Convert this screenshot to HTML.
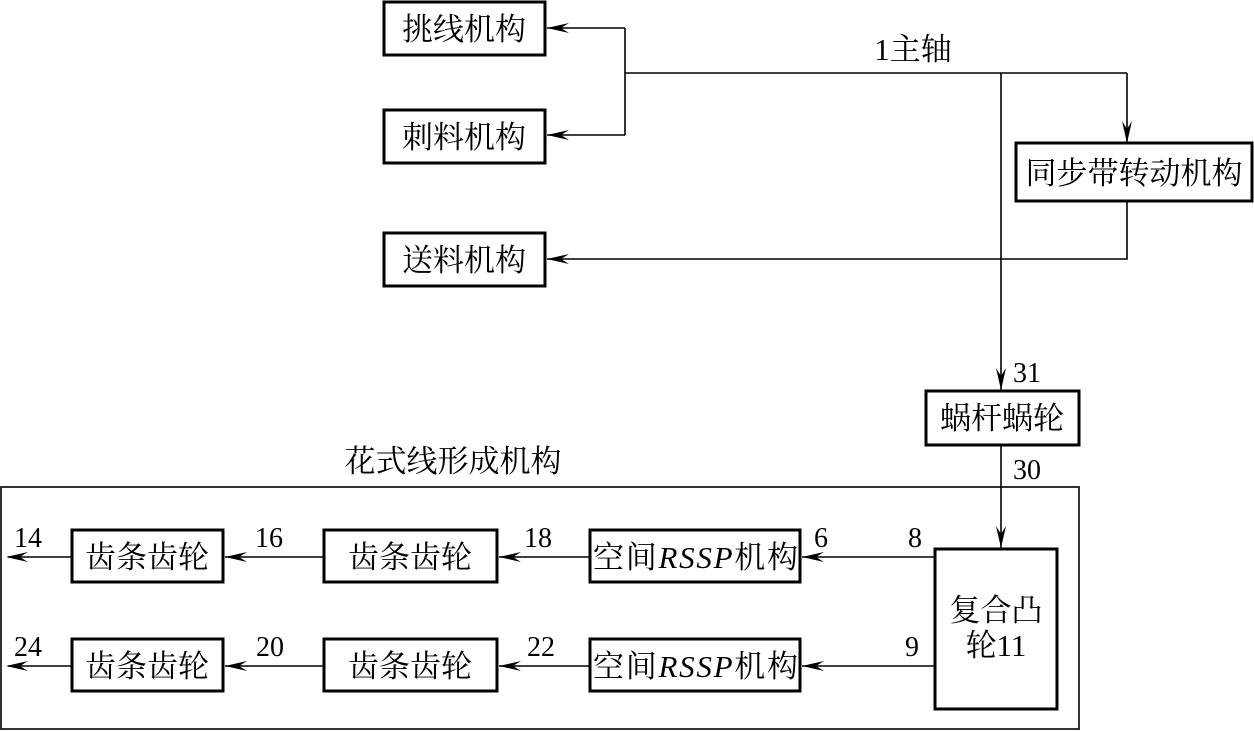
<!DOCTYPE html>
<html><head><meta charset="utf-8"><style>
html,body{margin:0;padding:0;background:#fff;}
svg{display:block;}
text{font-family:"Liberation Serif","Noto Serif CJK SC",serif;fill:#000;}
.c{font-size:31px;}
.n{font-size:28px;}
</style></head><body>
<svg width="1254" height="731" viewBox="0 0 1254 731" xmlns="http://www.w3.org/2000/svg">
<defs>
<marker id="a" markerWidth="22" markerHeight="10" refX="0" refY="5" orient="auto" markerUnits="userSpaceOnUse">
<path d="M0,5 L22,0 L14,5 L22,10 Z" fill="#000"/>
</marker>
<marker id="d" markerWidth="10" markerHeight="22" refX="5" refY="22" orient="0" markerUnits="userSpaceOnUse">
<path d="M5,22 L0,0 L5,8 L10,0 Z" fill="#000"/>
</marker>
</defs>
<g fill="none" stroke="#000" stroke-width="1.6">
<!-- top branch -->
<polyline points="1127,73 625,73"/>
<polyline points="625,28 625,135"/>
<line x1="625" y1="28" x2="547" y2="28"/>
<line x1="625" y1="135" x2="547" y2="135"/>
<line x1="1127" y1="73" x2="1127" y2="143"/>
<polyline points="1127,201 1127,259 547,259"/>
<line x1="1001" y1="73" x2="1001" y2="390"/>
<line x1="1001" y1="445" x2="1001" y2="549"/>
<!-- rows -->
<line x1="934" y1="557" x2="802" y2="557"/>
<line x1="590" y1="557" x2="499" y2="557"/>
<line x1="323" y1="557" x2="225" y2="557"/>
<line x1="71" y1="557" x2="8" y2="557"/>
<line x1="934" y1="666" x2="802" y2="666"/>
<line x1="590" y1="666" x2="499" y2="666"/>
<line x1="323" y1="666" x2="225" y2="666"/>
<line x1="71" y1="666" x2="8" y2="666"/>
<!-- outer -->
<rect x="1" y="487" width="1078" height="242"/>
</g>
<!-- arrowheads -->
<g fill="#000">
<path d="M547,28 l22,-5 l-8,5 l8,5z"/>
<path d="M547,135 l22,-5 l-8,5 l8,5z"/>
<path d="M547,259 l22,-5 l-8,5 l8,5z"/>
<path d="M1127,143 l-5,-22 l5,8 l5,-8z"/>
<path d="M1001,390 l-5,-22 l5,8 l5,-8z"/>
<path d="M1001,548 l-5,-22 l5,8 l5,-8z"/>
<path d="M802,557 l22,-5 l-8,5 l8,5z"/>
<path d="M499,557 l22,-5 l-8,5 l8,5z"/>
<path d="M225,557 l22,-5 l-8,5 l8,5z"/>
<path d="M6,557 l22,-5 l-8,5 l8,5z"/>
<path d="M802,666 l22,-5 l-8,5 l8,5z"/>
<path d="M499,666 l22,-5 l-8,5 l8,5z"/>
<path d="M225,666 l22,-5 l-8,5 l8,5z"/>
<path d="M6,666 l22,-5 l-8,5 l8,5z"/>
</g>
<g fill="#fff" stroke="#000" stroke-width="3">
<rect x="384" y="2" width="161" height="53"/>
<rect x="384" y="110" width="161" height="53"/>
<rect x="384" y="233" width="161" height="53"/>
<rect x="1016" y="143" width="236" height="58"/>
<rect x="926" y="391" width="153" height="54"/>
<rect x="935" y="549" width="122" height="160"/>
<rect x="590" y="530" width="210" height="52"/>
<rect x="590" y="639" width="210" height="52"/>
<rect x="324" y="530" width="173" height="52"/>
<rect x="324" y="639" width="173" height="52"/>
<rect x="72" y="530" width="151" height="52"/>
<rect x="72" y="639" width="151" height="52"/>
</g>
<g class="c" text-anchor="middle">
<text x="464" y="40">挑线机构</text>
<text x="464" y="148">刺料机构</text>
<text x="464" y="271">送料机构</text>
<text x="1134" y="184">同步带转动机构</text>
<text x="1002" y="429">蜗杆蜗轮</text>
<text x="996" y="621">复合凸</text>
<text x="996" y="656">轮11</text>
<text x="147" y="568">齿条齿轮</text>
<text x="410" y="568">齿条齿轮</text>
<text x="147" y="677">齿条齿轮</text>
<text x="410" y="677">齿条齿轮</text>
<text x="453" y="472">花式线形成机构</text>
<text x="913" y="60">1主轴</text>
</g>
<g class="c">
<text x="593" y="568" textLength="205">空间<tspan font-style="italic">RSSP</tspan>机构</text>
<text x="593" y="677" textLength="205">空间<tspan font-style="italic">RSSP</tspan>机构</text>
</g>
<g class="n">
<text x="1013" y="382">31</text>
<text x="1013" y="479">30</text>
<text x="14" y="547">14</text>
<text x="255" y="547">16</text>
<text x="524" y="547">18</text>
<text x="814" y="547">6</text>
<text x="908" y="547">8</text>
<text x="14" y="656">24</text>
<text x="256" y="656">20</text>
<text x="527" y="656">22</text>
<text x="905" y="656">9</text>
</g>
</svg>
</body></html>
